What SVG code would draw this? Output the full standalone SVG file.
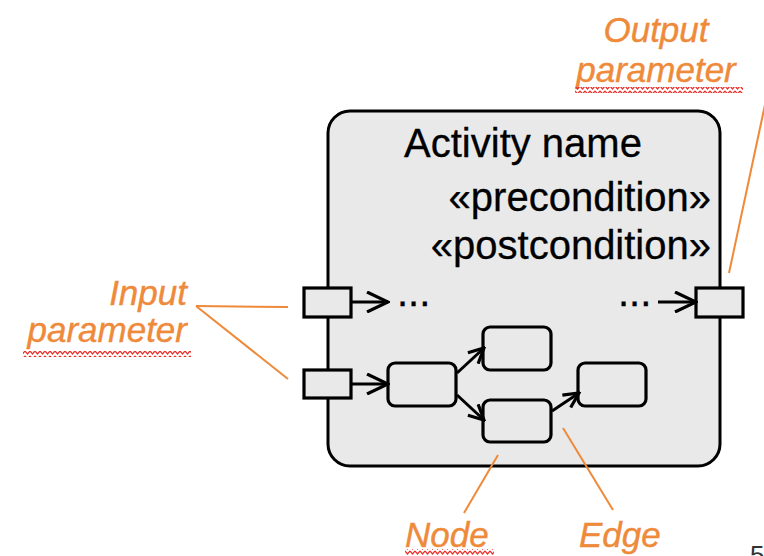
<svg xmlns="http://www.w3.org/2000/svg" width="764" height="556" viewBox="0 0 764 556">
<defs>
<style>
.frame{fill:#e9e9e9;stroke:#000;stroke-width:3}
.pin{fill:#e9e9e9;stroke:#000;stroke-width:3.2}
.node{fill:#e9e9e9;stroke:#000;stroke-width:3.2}
.edge{fill:none;stroke:#000;stroke-width:3}
.lead{fill:none;stroke:#ee8a3a;stroke-width:2}
.lbl{font-family:"Liberation Sans",Arial,sans-serif;font-style:italic;font-size:35px;fill:#ee8a3a;stroke:#ee8a3a;stroke-width:0.4}
.txt{font-family:"Liberation Sans",Arial,sans-serif;font-size:40px;fill:#000;stroke:#000;stroke-width:0.3}
.squig{fill:url(#zig)}
</style>
<pattern id="zig" x="0" y="0" width="5" height="5" patternUnits="userSpaceOnUse">
<path d="M0,1 L2.5,4 L5,1" fill="none" stroke="#e8302a" stroke-width="1.2"/>
</pattern>
<marker id="arrBig" viewBox="0 0 24 22" refX="22" refY="11" markerWidth="24" markerHeight="22" markerUnits="userSpaceOnUse" orient="auto">
<path d="M1,1 L22,11 L1,21" fill="none" stroke="#000" stroke-width="3.2"/>
</marker>
<marker id="arr" viewBox="0 0 18 18" refX="16" refY="9" markerWidth="18" markerHeight="18" markerUnits="userSpaceOnUse" orient="auto">
<path d="M1,1.5 L16,9 L1,16.5" fill="none" stroke="#000" stroke-width="3.2"/>
</marker>
</defs>
<rect width="764" height="556" fill="#fff"/>
<g id="activity">
<rect class="frame" x="328" y="111" width="392" height="355" rx="22"/>
<text class="txt" x="523" y="157" text-anchor="middle">Activity name</text>
<text class="txt" x="711" y="211" text-anchor="end">«precondition»</text>
<text class="txt" x="711" y="259" text-anchor="end">«postcondition»</text>
<text class="txt" x="397" y="306">...</text>
<text class="txt" x="618" y="306">...</text>
</g>
<g id="pin-in-1"><rect class="pin" x="304" y="288" width="47" height="29"/></g>
<g id="pin-in-2"><rect class="pin" x="304" y="370" width="47" height="28"/></g>
<g id="pin-out"><rect class="pin" x="696" y="288" width="47" height="29"/></g>
<g id="node-a"><rect class="node" x="388" y="363" width="68" height="43" rx="7"/></g>
<g id="node-b"><rect class="node" x="483" y="327" width="68" height="43" rx="7"/></g>
<g id="node-c"><rect class="node" x="483" y="400" width="68" height="42" rx="7"/></g>
<g id="node-d"><rect class="node" x="578" y="363" width="68" height="43" rx="7"/></g>
<g id="connectors">
<line class="edge" x1="351" y1="302" x2="388" y2="302" marker-end="url(#arrBig)"/>
<line class="edge" x1="658" y1="302" x2="696" y2="302" marker-end="url(#arrBig)"/>
<line class="edge" x1="351" y1="384" x2="388" y2="384" marker-end="url(#arrBig)"/>
<line class="edge" x1="457" y1="373" x2="484" y2="348" marker-end="url(#arr)"/>
<line class="edge" x1="457" y1="395" x2="484" y2="420" marker-end="url(#arr)"/>
<line class="edge" x1="552" y1="411" x2="579" y2="393" marker-end="url(#arr)"/>
</g>
<g id="leaders">
<line class="lead" x1="196" y1="306" x2="288" y2="307"/>
<line class="lead" x1="196" y1="306" x2="288" y2="379"/>
<line class="lead" x1="766" y1="100" x2="729" y2="273"/>
<line class="lead" x1="498" y1="455" x2="464" y2="513"/>
<line class="lead" x1="563" y1="428" x2="613" y2="510"/>
</g>
<g id="label-output">
<text class="lbl" x="656" y="42" text-anchor="middle">Output</text>
<text class="lbl" x="656" y="82" text-anchor="middle">parameter</text>
<rect class="squig" x="575" y="87" width="168" height="6"/>
</g>
<g id="label-input">
<text class="lbl" x="187" y="305" text-anchor="end">Input</text>
<text class="lbl" x="187" y="342" text-anchor="end">parameter</text>
<rect class="squig" x="23" y="351" width="168" height="6"/>
</g>
<g id="label-node">
<text class="lbl" x="405" y="547">Node</text>
<rect class="squig" x="405" y="549" width="89" height="6"/>
</g>
<g id="label-edge">
<text class="lbl" x="579" y="547">Edge</text>
</g>
<text x="750" y="564" font-family="'Liberation Sans',Arial,sans-serif" font-size="26" fill="#333">5</text>
</svg>
